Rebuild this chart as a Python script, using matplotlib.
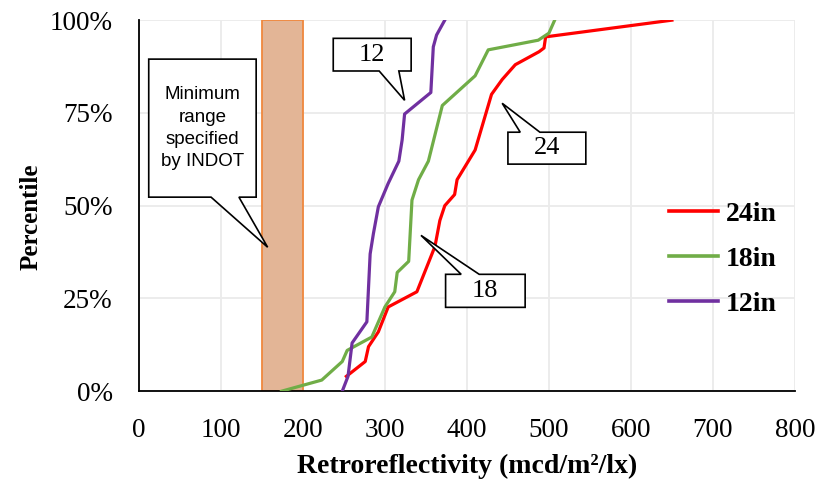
import matplotlib
matplotlib.use('Agg')
import matplotlib.pyplot as plt
from matplotlib.patches import Polygon, Rectangle
from matplotlib.ticker import PercentFormatter

# cumulative retroreflectivity curves (mcd/m2/lx vs percentile)
red_x = [253, 276, 280, 292, 304, 339, 361, 367, 373, 385, 388, 410, 430, 443, 459, 488, 494, 496, 650]
red_y = [0.04, 0.08, 0.12, 0.16, 0.227, 0.268, 0.39, 0.46, 0.50, 0.53, 0.57, 0.65, 0.80, 0.84, 0.88, 0.915, 0.925, 0.955, 1.0]

green_x = [174, 223, 248, 254, 284, 300, 312, 315, 329, 333, 341, 353, 370, 390, 410, 426, 487, 500, 507]
green_y = [0.0, 0.03, 0.08, 0.11, 0.146, 0.227, 0.268, 0.32, 0.35, 0.515, 0.57, 0.62, 0.77, 0.81, 0.85, 0.92, 0.946, 0.965, 1.0]

purple_x = [248, 255, 260, 278, 282, 286, 292, 304, 317, 321, 324, 356, 359, 363, 373]
purple_y = [0.0, 0.04, 0.13, 0.187, 0.37, 0.425, 0.497, 0.56, 0.62, 0.677, 0.747, 0.805, 0.928, 0.96, 1.0]

labels = ['24in', '18in', '12in']
colors = ['#FF0000', '#70AD47', '#7030A0']

indot_range = (150, 200)

x_ticks = list(range(0, 801, 100))
y_ticks = [0, 0.25, 0.5, 0.75, 1.0]

serif = 'Liberation Serif'


def bubble(ax, box, base, tip, edge, text, fontsize, family, lw=1.2, ls=1.2):
    x0, x1, y0, y1 = box
    a, b = base
    if edge == 'bottom':
        pts = [(x0, y1), (x1, y1), (x1, y0), (b, y0), tip, (a, y0), (x0, y0)]
    else:
        pts = [(x0, y0), (x1, y0), (x1, y1), (b, y1), tip, (a, y1), (x0, y1)]
    poly = Polygon(pts, closed=True, facecolor='white', edgecolor='black',
                   lw=lw, zorder=6, clip_on=False)
    ax.add_patch(poly)
    ax.text((x0 + x1) / 2, (y0 + y1) / 2, text, ha='center', va='center',
            fontsize=fontsize, family=family, zorder=7, linespacing=ls)


fig = plt.figure(figsize=(8.17, 4.8), dpi=100)
ax = fig.add_axes([0.170, 0.185, 0.803, 0.773])

ax.add_patch(Rectangle((indot_range[0], 0), indot_range[1] - indot_range[0], 1.0,
                       facecolor='#E3B596', edgecolor='#F0883E', lw=1.3, zorder=2))

for xs, ys, c, lab in zip([red_x, green_x, purple_x], [red_y, green_y, purple_y], colors, labels):
    ax.plot(xs, ys, color=c, lw=2.3, label=lab, zorder=4)

ax.set_xlim(0, 800)
ax.set_ylim(0, 1.0)
ax.set_xticks(x_ticks)
ax.set_yticks(y_ticks)
ax.yaxis.set_major_formatter(PercentFormatter(1.0, decimals=0))
ax.grid(True, color='#EBEBEB', lw=1.3, zorder=0)
ax.set_axisbelow(True)
for s in ['top', 'right']:
    ax.spines[s].set_visible(False)
for s in ['left', 'bottom']:
    ax.spines[s].set_linewidth(1.3)
ax.tick_params(length=0, labelsize=19.5)
ax.tick_params(axis='x', pad=19)
ax.tick_params(axis='y', pad=19)
for t in ax.get_xticklabels() + ax.get_yticklabels():
    t.set_family(serif)

ax.set_xlabel('Retroreflectivity (mcd/m\u00b2/lx)', fontsize=20, family=serif,
              fontweight='bold', labelpad=8)
ax.set_ylabel('Percentile', fontsize=18, family=serif, fontweight='bold')
ax.yaxis.set_label_coords(-0.147, 0.47)

leg = ax.legend(loc='upper left', bbox_to_anchor=(0.787, 0.549), frameon=False,
                prop={'family': serif, 'weight': 'bold', 'size': 20},
                handlelength=1.75, handletextpad=0.3, labelspacing=0.7, borderpad=0)
for h in leg.get_lines():
    h.set_linewidth(2.6)

# callouts
bubble(ax, (12, 143, 0.523, 0.895), (88, 122), (157, 0.388), 'bottom',
       'Minimum\nrange\nspecified\nby INDOT', 13.5, 'Liberation Sans', ls=1.4)
bubble(ax, (237, 332, 0.863, 0.951), (293, 317), (324, 0.784), 'bottom', '12', 19, serif)
bubble(ax, (450, 545, 0.612, 0.698), (465, 489), (443, 0.776), 'top', '24', 19, serif)
bubble(ax, (374, 471, 0.226, 0.315), (393, 415), (344, 0.42), 'top', '18', 19, serif)

fig.savefig('out.png', dpi=100)
